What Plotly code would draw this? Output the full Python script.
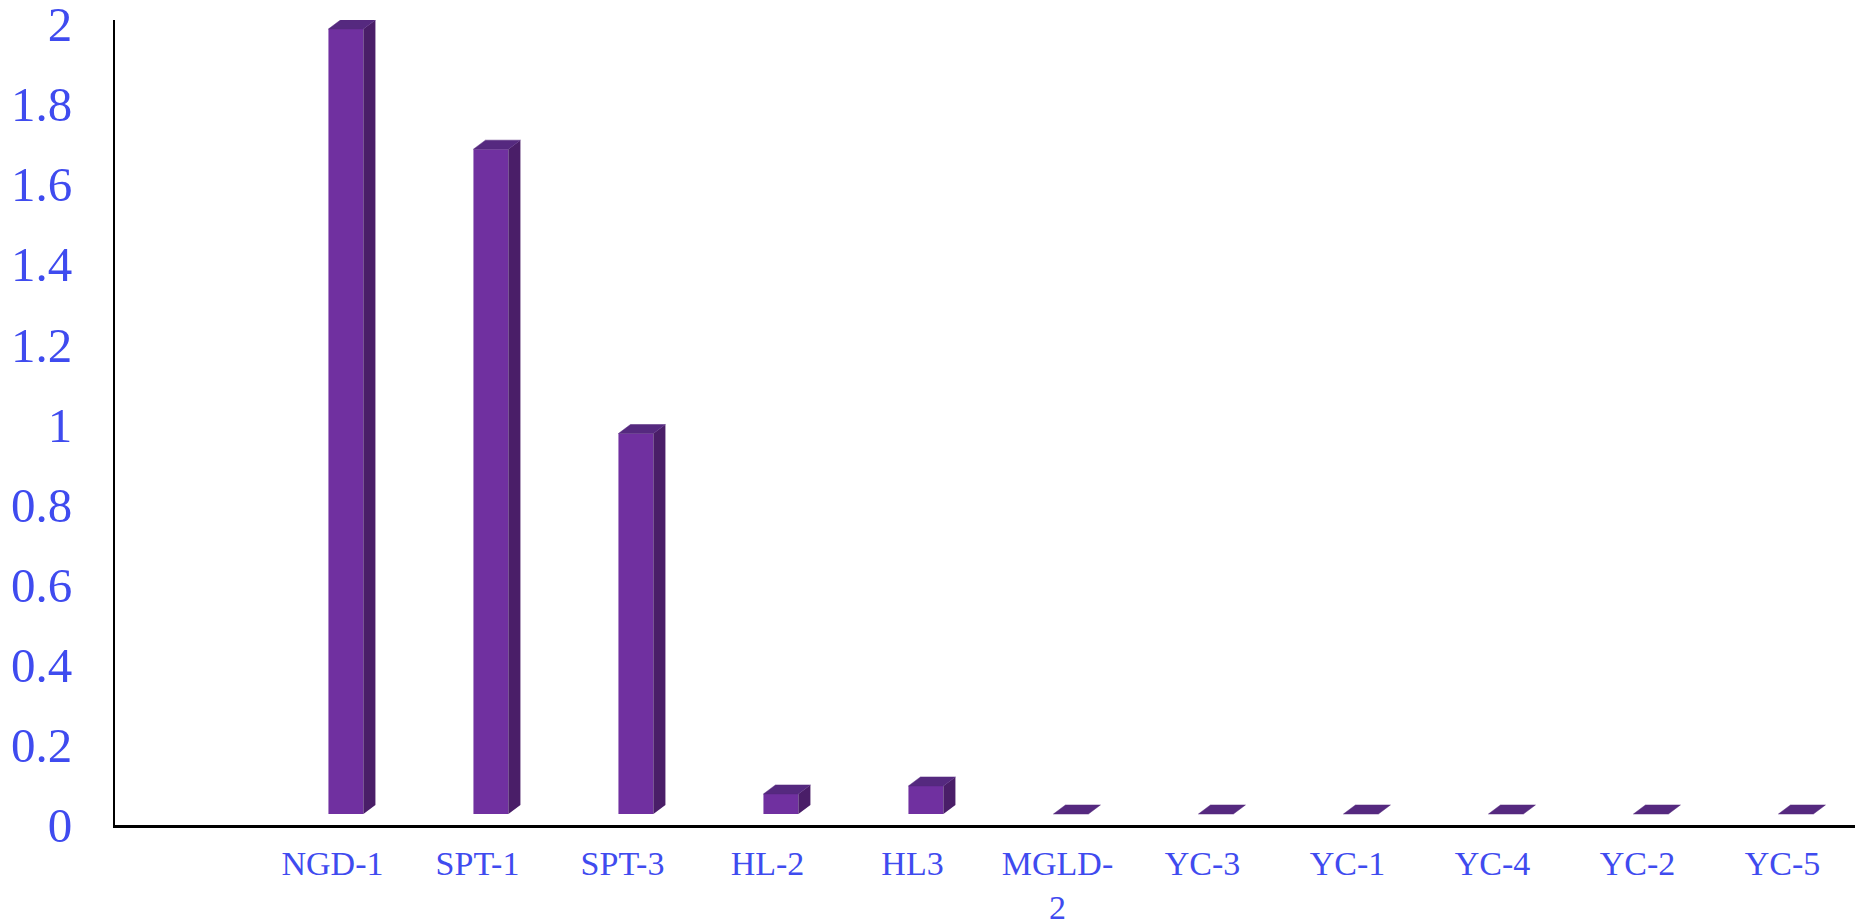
import plotly.graph_objects as go

# data
categories = ["", "NGD-1", "SPT-1", "SPT-3", "HL-2", "HL3", "MGLD-2",
              "YC-3", "YC-1", "YC-4", "YC-2", "YC-5"]
values = [None, 1.96, 1.66, 0.95, 0.05, 0.07, 0, 0, 0, 0, 0, 0]
tick_text = ["", "NGD-1", "SPT-1", "SPT-3", "HL-2", "HL3", "MGLD-<br>2",
             "YC-3", "YC-1", "YC-4", "YC-2", "YC-5"]
y_ticks = [0, 0.2, 0.4, 0.6, 0.8, 1, 1.2, 1.4, 1.6, 1.8, 2]

# fake 3d look (in axis units)
FRONT_OFF = -0.028
FRONT_W = 0.241
DX = 0.083
DY = 0.0225
LIFT = 0.0275

FRONT = "#7030A0"
SIDE = "#4A1E68"
TOP = "#55297F"
BLUE = "#3F4BEF"
FONT = "Liberation Serif, Times New Roman, serif"

idx = list(range(len(categories)))

fig = go.Figure()

fig.add_trace(go.Bar(
    x=idx, y=values, base=LIFT, offset=FRONT_OFF, width=FRONT_W,
    marker=dict(color=FRONT, line=dict(width=0)),
    hoverinfo="skip"
))

side_x, side_y, top_x, top_y = [], [], [], []
for i, v in zip(idx, values):
    if v is None:
        continue
    x0 = i + FRONT_OFF
    x1 = x0 + FRONT_W
    if v > 0:
        side_x += [x1, x1 + DX, x1 + DX, x1, x1, None]
        side_y += [LIFT, LIFT + DY, LIFT + DY + v, LIFT + v, LIFT, None]
    top_x += [x0, x0 + DX, x1 + DX, x1, x0, None]
    top_y += [LIFT + v, LIFT + v + DY, LIFT + v + DY, LIFT + v, LIFT + v, None]

fig.add_trace(go.Scatter(x=side_x, y=side_y, mode="lines", fill="toself",
                         fillcolor=SIDE, line=dict(width=0, color=SIDE),
                         hoverinfo="skip"))
fig.add_trace(go.Scatter(x=top_x, y=top_y, mode="lines", fill="toself",
                         fillcolor=TOP, line=dict(width=0.5, color=TOP),
                         hoverinfo="skip"))

fig.update_layout(
    width=1857, height=922,
    margin=dict(l=115, r=2, t=20, b=97),
    plot_bgcolor="white", paper_bgcolor="white",
    showlegend=False,
    xaxis=dict(
        range=[-0.5, 11.5], tickvals=idx, ticktext=tick_text,
        showgrid=False, zeroline=False, showline=True,
        linecolor="black", linewidth=3, ticks="",
        automargin=False, ticklabelstandoff=6,
        tickfont=dict(family=FONT, size=34, color=BLUE),
    ),
    yaxis=dict(
        range=[0, 2.01], tickvals=y_ticks,
        ticktext=[f"{t:g}" for t in y_ticks],
        showgrid=False, zeroline=False, showline=True,
        linecolor="black", linewidth=2, ticks="",
        automargin=False, ticklabelstandoff=31,
        ticklabeloverflow="allow",
        tickfont=dict(family=FONT, size=49, color=BLUE),
    ),
)

# drop the default page margin so the figure sits at the top-left corner
fig.write_html("out.html", config={"displayModeBar": False},
               post_script="document.body.style.margin='0';")
